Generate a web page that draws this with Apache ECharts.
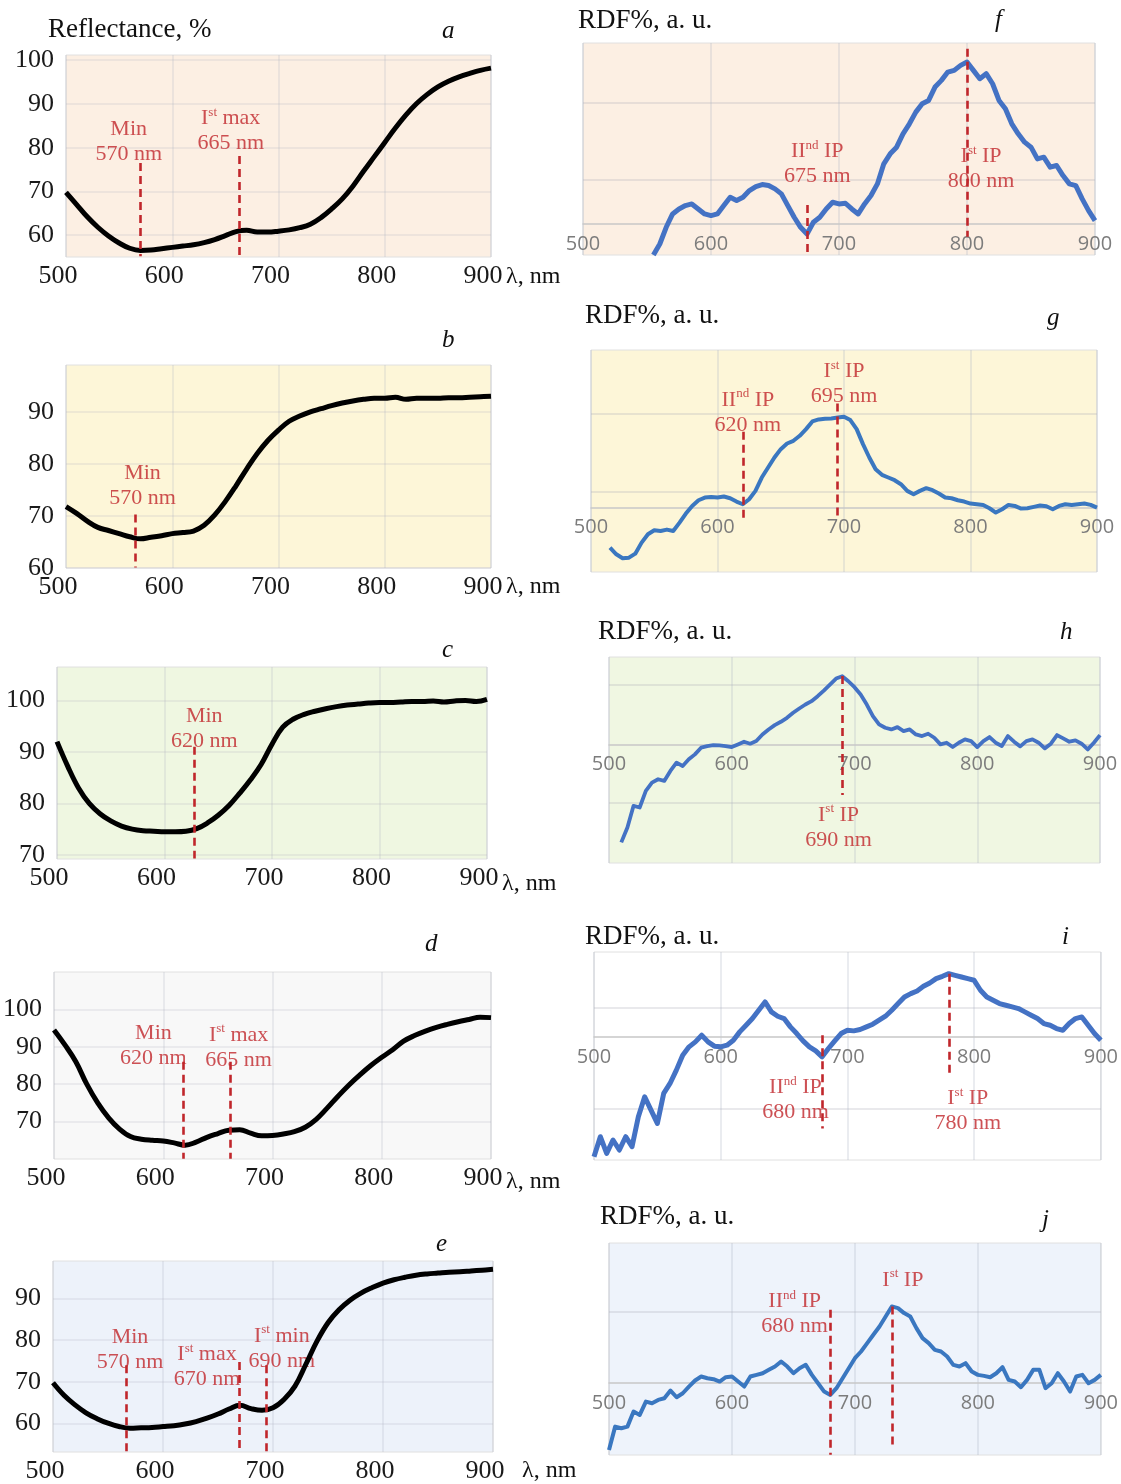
<!DOCTYPE html>
<html><head><meta charset="utf-8">
<script src="https://cdn.jsdelivr.net/npm/echarts@6/dist/echarts.min.js"></script>
<style>html,body{margin:0;padding:0;background:#fff}#c{width:1121px;height:1484px}</style>
</head><body><div id="c"></div>
<script>
// ---------- DATA ----------
const wl10 = [500,510,520,530,540,550,560,570,580,590,600,610,620,630,640,650,660,670,680,690,700,710,720,730,740,750,760,770,780,790,800,810,820,830,840,850,860,870,880,890,900];
const xTicks = [500,600,700,800,900];

const reflA = [69.8,67,64.2,61.8,59.8,58.2,57,56.5,56.6,56.9, 57.2,57.5,57.8,58.3,59,59.9,60.8,61.1,60.7,60.7, 60.9,61.2,61.7,62.5,64,66,68.3,71.2,74.6,77.9, 81.2,84.5,87.5,90.1,92.2,93.9,95.2,96.2,97,97.7, 98.2];
const reflB = [71.8,70.5,69,67.8,67.2,66.6,66,65.6,65.9,66.2, 66.6,66.8,67.1,68.2,70.2,72.8,75.8,79,82,84.5, 86.5,88.2,89.2,90,90.6,91.2,91.7,92.1,92.4,92.6, 92.6,92.8,92.4,92.6,92.6,92.6,92.7,92.7,92.8,92.9, 93];
const reflC = [92,87.2,83,80,78,76.6,75.6,75,74.7,74.6, 74.5,74.5,74.6,75.1,76.2,77.7,79.6,82,84.6,87.6, 91.5,94.8,96.4,97.3,97.9,98.4,98.8,99.1,99.3,99.5, 99.6,99.6,99.7,99.8,99.8,99.9,99.7,99.9,100,99.8, 100.2];
const reflD = [94.5,90.5,86,80,75,71,68,66,65.3,65, 64.8,64.3,63.7,64.5,65.8,66.8,67.7,67.8,66.9,66.2, 66.3,66.7,67.3,68.5,70.6,73.6,76.8,79.8,82.5,85, 87.2,89.2,91.5,93,94.2,95.2,96,96.7,97.3,97.9, 97.8];
const reflE = [69.8,66.8,64.5,62.6,61.2,60.1,59.3,58.9,59,59.1, 59.3,59.5,59.9,60.5,61.3,62.3,63.5,64.4,63.6,63.2, 63.8,65.8,69,74.3,79.8,84.2,87.3,89.6,91.3,92.6, 93.7,94.5,95.1,95.6,95.9,96.1,96.3,96.4,96.6,96.8, 97];

// RDF series: 5 nm steps from the start wavelength
const rdfFStart = 555;
const rdfF = [-0.93,-0.6,-0.1,0.3,0.45,0.55,0.6,0.45,0.3,0.25, 0.3,0.55,0.8,0.7,0.8,1.0,1.12,1.18,1.15,1.05, 0.9,0.55,0.2,-0.1,-0.3,0.05,0.2,0.45,0.65,0.6, 0.62,0.45,0.3,0.6,0.85,1.2,1.8,2.1,2.3,2.7, 3.0,3.35,3.6,3.7,4.1,4.3,4.55,4.6,4.75,4.85, 4.6,4.35,4.5,4.2,3.7,3.45,3.0,2.7,2.45,2.3, 1.95,2.0,1.7,1.75,1.45,1.2,1.15,0.75,0.4,0.1];
const rdfGStart = 515;
const rdfG = [-1.2,-1.4,-1.52,-1.5,-1.38,-1.05,-0.8,-0.68,-0.7,-0.66, -0.7,-0.45,-0.18,0.05,0.22,0.3,0.32,0.3,0.33,0.28, 0.18,0.1,0.25,0.5,0.9,1.2,1.5,1.75,1.92,2.0, 2.15,2.35,2.58,2.64,2.66,2.67,2.7,2.72,2.62,2.35, 1.9,1.5,1.15,0.98,0.9,0.82,0.7,0.5,0.4,0.5, 0.58,0.52,0.42,0.3,0.28,0.22,0.18,0.12,0.1,0.08, -0.02,-0.15,-0.05,0.08,0.05,-0.03,-0.02,0.02,0.06,0.04, -0.05,0.05,0.1,0.08,0.1,0.12,0.08,0.0];
const rdfHStart = 510;
const rdfH = [-2.95,-2.5,-1.85,-1.9,-1.4,-1.15,-1.05,-1.1,-0.8,-0.55, -0.65,-0.45,-0.3,-0.1,-0.05,-0.02,-0.03,-0.05,-0.08,0.0, 0.08,0.02,0.1,0.3,0.45,0.58,0.68,0.8,0.95,1.08, 1.2,1.3,1.45,1.62,1.8,1.98,2.05,1.9,1.72,1.5, 1.2,0.85,0.6,0.5,0.45,0.52,0.4,0.45,0.3,0.25, 0.32,0.2,0.0,0.05,-0.08,0.05,0.15,0.1,-0.08,0.1, 0.22,0.05,-0.05,0.25,0.08,-0.06,0.1,0.15,0.05,-0.12, 0.02,0.28,0.18,0.08,0.12,0.02,-0.15,0.05,0.28];
const rdfIStart = 500;
const rdfI = [-3.6,-3.0,-3.5,-3.1,-3.4,-3.0,-3.3,-2.4,-1.8,-2.2, -2.6,-1.7,-1.4,-1.0,-0.55,-0.3,-0.15,0.05,-0.15,-0.28, -0.3,-0.25,-0.1,0.15,0.35,0.55,0.8,1.05,0.75,0.62, 0.55,0.3,0.1,-0.12,-0.3,-0.42,-0.6,-0.35,-0.12,0.1, 0.2,0.18,0.22,0.3,0.38,0.5,0.62,0.8,1.0,1.2, 1.3,1.38,1.52,1.62,1.75,1.82,1.9,1.85,1.8,1.75, 1.7,1.4,1.2,1.1,1.0,0.95,0.9,0.85,0.75,0.65, 0.55,0.4,0.35,0.25,0.2,0.4,0.55,0.6,0.35,0.1, -0.1];
const rdfJStart = 500;
const rdfJ = [-2.0,-1.3,-1.35,-1.3,-0.85,-0.95,-0.55,-0.6,-0.5,-0.45, -0.22,-0.42,-0.3,-0.1,0.08,0.2,0.15,0.12,0.05,0.18, 0.2,0.05,-0.1,0.2,0.25,0.3,0.4,0.5,0.65,0.5, 0.3,0.45,0.55,0.25,0.0,-0.25,-0.35,-0.15,0.15,0.45, 0.75,0.95,1.2,1.45,1.7,2.0,2.3,2.25,2.1,2.0, 1.65,1.35,1.2,1.0,0.95,0.8,0.55,0.5,0.6,0.35, 0.25,0.22,0.18,0.3,0.48,0.1,0.05,-0.12,0.1,0.4, 0.4,-0.15,0.0,0.3,0.05,-0.25,0.2,0.25,0.0,0.1, 0.25];

// y tick labels (left panels) and faint grid values (right panels)
const yTicksA = [60,70,80,90,100];
const yTicksB = [60,70,80,90];
const yTicksC = [70,80,90,100];
const yTicksD = [70,80,90,100];
const yTicksE = [60,70,80,90];
const gridF = [1.32,3.62];
const gridG = [0.47,2.82];
const gridH = [-1.77,1.78];
const gridI = [-2.15,0.88];
const gridJ = [2.15];

// dashed marker lines: [wavelength, y from, y to]
const marksA = [[570,76.5,55.2],[663,78.1,55.2]];
const marksB = [[565,70.3,60.1]];
const marksC = [[628,91,69.3]];
const marksD = [[618,86,60.1],[661,86,60.1]];
const marksE = [[567,74,53.3],[669,74.8,53.3],[694,74,53.3]];
const marksF = [[675,0.57,-0.92],[800,5.25,-0.38]];
const marksG = [[620,2.27,-0.33],[695,3.12,-0.33]];
const marksH = [[690,2.06,-1.52]];
const marksI = [[680,0.05,-2.75],[780,1.9,-1.15]];
const marksJ = [[680,2.2,-2.14],[730,2.3,-1.95]];

// annotation texts: [x, y, text]
const notesA = [[559,81.4,'{t|Min}\n{t|570 nm}'],[655,83.9,'{t|I}{s|st}{t| max}\n{t|665 nm}']];
const notesB = [[572,75.8,'{t|Min}\n{t|570 nm}']];
const notesC = [[637,94.5,'{t|Min}\n{t|620 nm}']];
const notesD = [[591,90.3,'{t|Min}\n{t|620 nm}'],[669,89.8,'{t|I}{s|st}{t| max}\n{t|665 nm}']];
const notesE = [[570,77.8,'{t|Min}\n{t|570 nm}'],[640,73.6,'{t|I}{s|st}{t| max}\n{t|670 nm}'],[708,78,'{t|I}{s|st}{t| min}\n{t|690 nm}']];
const notesF = [[683,1.8,'{t|II}{s|nd}{t| IP}\n{t|675 nm}'],[811,1.65,'{t|I}{s|st}{t| IP}\n{t|800 nm}']];
const notesG = [[624,2.85,'{t|II}{s|nd}{t| IP}\n{t|620 nm}'],[700,3.7,'{t|I}{s|st}{t| IP}\n{t|695 nm}']];
const notesH = [[687,-2.5,'{t|I}{s|st}{t| IP}\n{t|690 nm}']];
const notesI = [[659,-1.89,'{t|II}{s|nd}{t| IP}\n{t|680 nm}'],[795,-2.22,'{t|I}{s|st}{t| IP}\n{t|780 nm}']];
const notesJ = [[651,2.08,'{t|II}{s|nd}{t| IP}\n{t|680 nm}'],[739,3.1,'{t|I}{s|st}{t| IP}']];

// ---------- LAYOUT / STYLE ----------
const SERIF = "'Liberation Serif', 'DejaVu Serif', serif";
const SANS = "'Open Sans', 'Liberation Sans', sans-serif";
const RED = '#c0262b';
const rich = {
  t: {fontFamily: SERIF, fontSize: 22, color: RED, lineHeight: 25},
  s: {fontFamily: SERIF, fontSize: 13, color: RED, lineHeight: 25, verticalAlign: 'top'}
};

const panels = [
  {kind:'L', g:{left:66,top:55,width:425,height:202}, bg:'#fcefe3', xs:wl10, ys:reflA, yMin:55, yMax:101.2, ticks:yTicksA, marks:marksA, notes:notesA},
  {kind:'L', g:{left:66,top:365,width:425,height:203}, bg:'#fdf6d8', xs:wl10, ys:reflB, yMin:60, yMax:99, ticks:yTicksB, marks:marksB, notes:notesB},
  {kind:'L', g:{left:57,top:667,width:430,height:192}, bg:'#eff7e1', xs:wl10, ys:reflC, yMin:69.2, yMax:106.5, ticks:yTicksC, marks:marksC, notes:notesC},
  {kind:'L', g:{left:54,top:972,width:437,height:187}, bg:'#f8f8f8', xs:wl10, ys:reflD, yMin:60, yMax:110, ticks:yTicksD, marks:marksD, notes:notesD},
  {kind:'L', g:{left:53,top:1261,width:440,height:192}, bg:'#edf2fa', xs:wl10, ys:reflE, yMin:53.2, yMax:99, ticks:yTicksE, marks:marksE, notes:notesE},
  {kind:'R', g:{left:583,top:43,width:512,height:212}, bg:'#fcefe3', start:rdfFStart, ys:rdfF, yMin:-0.93, yMax:5.42, ticks:gridF, marks:marksF, notes:notesF, lc:'#4472c4', lw:5},
  {kind:'R', g:{left:591,top:350,width:506,height:222}, bg:'#fdf6d8', start:rdfGStart, ys:rdfG, yMin:-1.93, yMax:4.72, ticks:gridG, marks:marksG, notes:notesG, lc:'#3a77c0', lw:4},
  {kind:'R', g:{left:609,top:657,width:491,height:206}, bg:'#f0f7e2', start:rdfHStart, ys:rdfH, yMin:-3.57, yMax:2.63, ticks:gridH, marks:marksH, notes:notesH, lc:'#4472c4', lw:3.8},
  {kind:'R', g:{left:594,top:952,width:514,height:208}, bg:'#ffffff', start:rdfIStart, ys:rdfI, yMin:-3.7, yMax:2.55, ticks:gridI, marks:marksI, notes:notesI, lc:'#4472c4', lw:5},
  {kind:'R', g:{left:609,top:1243,width:502,height:212}, bg:'#eef3fb', start:rdfJStart, ys:rdfJ, yMin:-2.15, yMax:4.2, ticks:gridJ, marks:marksJ, notes:notesJ, lc:'#3a77c0', lw:4}
];

const grids = [], xAxes = [], yAxes = [], series = [];
panels.forEach((p, i) => {
  grids.push(Object.assign({show:true, backgroundColor:p.bg, borderColor:'#e0e0e0', borderWidth:1, containLabel:false}, p.g));
  const isL = p.kind === 'L';
  // right panels: the horizontal axis crosses the value axis at zero
  const zeroOffset = isL ? 0 : -(0 - p.yMin) / (p.yMax - p.yMin) * p.g.height;
  xAxes.push({
    type:'value', gridIndex:i, min:500, max:900, interval:100, offset:zeroOffset,
    axisLine: isL ? {show:false} : {show:true, onZero:false, lineStyle:{color:'#c8c8c8', width:1.5}},
    axisTick:{show:false},
    axisLabel: isL ? {fontFamily:SERIF, fontSize:26, color:'#1a1a1a', margin:6, padding:[0,16,0,0]}
                   : {fontFamily:SANS, fontSize:20, color:'#7c7c7c', margin:10},
    splitLine:{show:true, lineStyle:{color: isL ? 'rgba(175,180,195,0.28)' : 'rgba(175,180,195,0.35)', width:1.5}}
  });
  yAxes.push({
    type:'value', gridIndex:i, min:p.yMin, max:p.yMax,
    axisLine:{show:false},
    axisTick:{show:false, customValues:p.ticks},
    axisLabel: isL ? {show:true, customValues:p.ticks, fontFamily:SERIF, fontSize:26, color:'#1a1a1a', margin:12}
                   : {show:false},
    splitLine:{show:true, lineStyle:{color: isL ? 'rgba(175,180,195,0.25)' : 'rgba(170,170,180,0.35)', width:1.5}}
  });
  const data = isL ? p.xs.map((x, k) => [x, p.ys[k]]) : p.ys.map((y, k) => [p.start + 5 * k, y]);
  series.push({
    type:'line', xAxisIndex:i, yAxisIndex:i, data, symbol:'none', silent:true,
    smooth: isL ? 0.4 : false,
    lineStyle: isL ? {color:'#000', width:5} : {color:p.lc, width:p.lw, join:'round'},
    markLine:{
      silent:true, symbol:['none','none'], animation:false,
      label:{show:false},
      lineStyle:{type:[8,5], color:RED, width:2.6},
      data: p.marks.map(m => [{coord:[m[0], m[1]]}, {coord:[m[0], m[2]]}])
    }
  });
  series.push({
    type:'scatter', xAxisIndex:i, yAxisIndex:i, symbolSize:1, silent:true,
    itemStyle:{color:'transparent'},
    label:{show:true, position:'inside', align:'center', verticalAlign:'middle', rich,
      formatter: prm => prm.data.txt},
    data: p.notes.map(n => ({value:[n[0], n[1]], txt:n[2]}))
  });
});

// ---------- TEXTS ----------
const texts = [
  ['Reflectance, %', 48, 30, false, 27],
  ['a', 442, 31, true, 25], ['b', 442, 340, true, 25], ['c', 442, 650, true, 25], ['d', 425, 944, true, 25], ['e', 436, 1244, true, 25],
  ['λ, nm', 506, 277, false, 24], ['λ, nm', 506, 587, false, 24], ['λ, nm', 502, 884, false, 24], ['λ, nm', 506, 1182, false, 24], ['λ, nm', 522, 1471, false, 24],
  ['RDF%, a. u.', 578, 21, false, 27], ['RDF%, a. u.', 585, 316, false, 27], ['RDF%, a. u.', 598, 632, false, 27], ['RDF%, a. u.', 585, 937, false, 27], ['RDF%, a. u.', 600, 1217, false, 27],
  ['f', 995, 20, true, 25], ['g', 1047, 318, true, 25], ['h', 1060, 632, true, 25], ['i', 1062, 937, true, 25], ['j', 1042, 1220, true, 25]
];
const graphic = texts.map(t => ({
  type:'text', x:t[1], y:t[2], silent:true,
  style:{text:t[0], fill:'#111', font:(t[3] ? 'italic ' : '') + t[4] + 'px ' + SERIF, verticalAlign:'middle', align:'left'}
}));

const chart = echarts.init(document.getElementById('c'), null, {width:1121, height:1484});
chart.setOption({
  animation:false,
  backgroundColor:'#ffffff',
  grid:grids, xAxis:xAxes, yAxis:yAxes, series, graphic
});
</script>
</body></html>
